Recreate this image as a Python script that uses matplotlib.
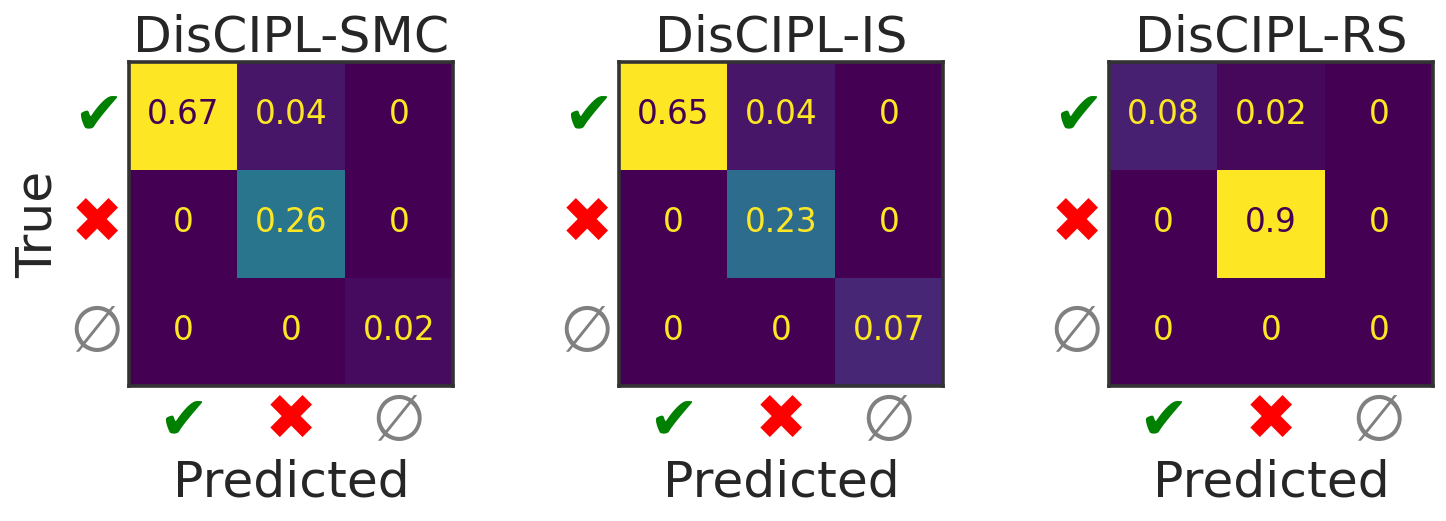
import matplotlib
matplotlib.use("Agg")
import matplotlib.pyplot as plt
from matplotlib.transforms import ScaledTranslation
import numpy as np

titles = ["DisCIPL-SMC", "DisCIPL-IS", "DisCIPL-RS"]
tick_labels = ["\u2714", "\u2716", "\u2205"]
tick_colors = ["green", "red", "gray"]
tick_sizes = [43, 45, 45]
smc_values = [[0.67, 0.04, 0], [0, 0.26, 0], [0, 0, 0.02]]
is_values = [[0.65, 0.04, 0], [0, 0.23, 0], [0, 0, 0.07]]
rs_values = [[0.08, 0.02, 0], [0, 0.9, 0], [0, 0, 0]]
all_values = [smc_values, is_values, rs_values]

DARK = ".15"
W, H = 1446, 521
lefts = [129, 619, 1109]
top, bottom = 62, 386
side = 324


def main():
    fig = plt.figure(figsize=(W / 100, H / 100), dpi=100)
    cmap = plt.get_cmap("viridis")
    for i, values in enumerate(all_values):
        ax = fig.add_axes([lefts[i] / W, 1 - bottom / H, side / W, (bottom - top) / H])
        arr = np.array(values)
        ax.imshow(arr, cmap=cmap, aspect="auto")
        # text colour flips on bright cells, same as a confusion matrix display
        mid = (arr.max() + arr.min()) / 2
        for r in range(3):
            for c in range(3):
                color = cmap(0) if arr[r, c] >= mid else cmap(1.0)
                ax.annotate(format(arr[r, c], "g"), (c, r), xytext=(0, 1), textcoords="offset points",
                            ha="center", va="center", color=color, fontsize=23.5)
        ax.set_xticks(range(3))
        ax.set_yticks(range(3))
        ax.set_xticklabels(tick_labels, family="DejaVu Sans")
        ax.set_yticklabels(tick_labels, family="DejaVu Sans")
        ax.tick_params(axis="x", length=0, pad=5)
        ax.tick_params(axis="y", length=0, pad=4)
        for labs in (ax.get_xticklabels(), ax.get_yticklabels()):
            for lab, col, size in zip(labs, tick_colors, tick_sizes):
                lab.set_color(col)
                lab.set_fontsize(size)
        # y tick glyphs sit a little above the cell centres
        shift = ScaledTranslation(0, 5 / 100, fig.dpi_scale_trans)
        for lab in ax.get_yticklabels():
            lab.set_transform(lab.get_transform() + shift)
        for s in ax.spines.values():
            s.set_color("#333333")
            s.set_linewidth(2.6)
        ax.set_title(titles[i], fontsize=36.3, color=DARK, pad=5)
        ax.set_xlabel("Predicted", fontsize=36.3, color=DARK, labelpad=4)
        if i == 0:
            ax.set_ylabel("True", fontsize=36.3, color=DARK, labelpad=5.5)
    fig.savefig("out.png", dpi=100)


if __name__ == '__main__':
    main()
